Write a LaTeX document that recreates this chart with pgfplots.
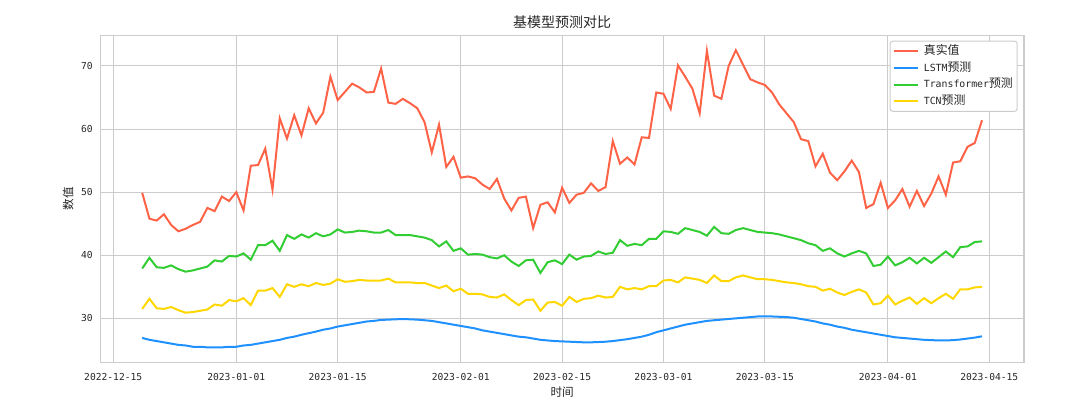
\documentclass[border=0pt]{standalone}
\usepackage{fontspec}
\setmainfont{DejaVu Sans Mono}[Scale=0.83]
\newfontfamily\cjk{Noto Sans CJK SC}
\usepackage{pgfplots}
\pgfplotsset{compat=1.18}
\usepackage{pgfplotstable}
\definecolor{cReal}{HTML}{FF6347}
\definecolor{cLSTM}{HTML}{1E90FF}
\definecolor{cTrans}{HTML}{32CD32}
\definecolor{cTCN}{HTML}{FFD700}
\definecolor{gridc}{HTML}{CCCCCC}
\definecolor{txt}{HTML}{262626}

\pgfplotstableread{
d real lstm trans tcn
-13 49.9 26.9 37.9 31.5
-12 45.8 26.6 39.6 33.1
-11 45.5 26.4 38.1 31.6
-10 46.5 26.2 38.0 31.5
-9 44.8 26.0 38.4 31.8
-8 43.8 25.8 37.8 31.3
-7 44.2 25.7 37.4 30.9
-6 44.8 25.5 37.6 31.0
-5 45.3 25.5 37.9 31.2
-4 47.5 25.4 38.2 31.4
-3 47.0 25.4 39.2 32.2
-2 49.3 25.4 39.0 32.0
-1 48.6 25.5 39.9 32.9
0 50.0 25.5 39.8 32.7
1 47.1 25.7 40.3 33.2
2 54.2 25.8 39.3 32.1
3 54.3 26.0 41.6 34.4
4 56.9 26.2 41.6 34.4
5 50.4 26.4 42.3 34.8
6 61.7 26.6 40.7 33.4
7 58.5 26.9 43.2 35.4
8 62.2 27.1 42.6 35.0
9 59.0 27.4 43.3 35.4
10 63.3 27.65 42.8 35.1
11 60.9 27.9 43.5 35.6
12 62.6 28.2 43.0 35.3
13 68.3 28.4 43.3 35.5
14 64.6 28.7 44.1 36.2
15 65.9 28.9 43.6 35.8
16 67.2 29.1 43.7 35.9
17 66.6 29.3 43.9 36.1
18 65.8 29.5 43.8 36.0
19 65.9 29.6 43.6 36.0
20 69.6 29.75 43.6 36.0
21 64.2 29.8 44.0 36.3
22 64.0 29.85 43.2 35.7
23 64.8 29.9 43.2 35.7
24 64.1 29.85 43.2 35.7
25 63.3 29.8 43.0 35.6
26 61.1 29.7 42.8 35.6
27 56.3 29.6 42.4 35.2
28 60.7 29.4 41.4 34.8
29 54.0 29.2 42.2 35.2
30 55.6 29.0 40.7 34.3
31 52.3 28.8 41.1 34.7
32 52.5 28.6 40.1 33.9
33 52.2 28.4 40.2 33.9
34 51.2 28.1 40.1 33.8
35 50.5 27.9 39.7 33.4
36 52.1 27.7 39.5 33.3
37 49.0 27.5 40.0 33.8
38 47.1 27.3 39.0 32.9
39 49.1 27.1 38.3 32.1
40 49.3 27.0 39.2 32.9
41 44.3 26.8 39.3 33.0
42 48.0 26.6 37.2 31.2
43 48.4 26.5 38.9 32.5
44 46.8 26.4 39.2 32.6
45 50.7 26.35 38.6 32.0
46 48.3 26.3 40.1 33.4
47 49.6 26.25 39.3 32.6
48 49.9 26.2 39.8 33.1
49 51.4 26.2 39.9 33.2
50 50.2 26.25 40.6 33.6
51 50.8 26.3 40.2 33.3
52 58.1 26.4 40.4 33.4
53 54.5 26.55 42.4 35.0
54 55.5 26.7 41.5 34.6
55 54.4 26.9 41.8 34.8
56 58.7 27.1 41.6 34.6
57 58.6 27.4 42.6 35.1
58 65.8 27.8 42.6 35.1
59 65.6 28.1 43.8 36.0
60 63.2 28.4 43.7 36.1
61 70.1 28.7 43.4 35.7
62 68.3 29.0 44.3 36.5
63 66.4 29.2 44.0 36.3
64 62.5 29.4 43.7 36.1
65 72.4 29.6 43.1 35.6
66 65.3 29.7 44.5 36.8
67 64.8 29.8 43.5 35.9
68 70.0 29.9 43.4 35.9
69 72.5 30.0 44.0 36.5
70 70.2 30.1 44.3 36.8
71 67.9 30.2 44.0 36.5
72 67.4 30.3 43.7 36.2
73 67.0 30.3 43.6 36.2
74 65.8 30.3 43.5 36.1
75 63.9 30.25 43.3 35.9
76 62.5 30.2 43.0 35.7
77 61.1 30.1 42.7 35.6
78 58.4 29.9 42.4 35.4
79 58.1 29.7 41.9 35.1
80 54.1 29.5 41.6 35.0
81 56.1 29.2 40.7 34.4
82 53.1 29.0 41.1 34.7
83 51.9 28.7 40.3 34.1
84 53.3 28.5 39.8 33.7
85 55.0 28.2 40.3 34.2
86 53.2 28.0 40.7 34.6
87 47.5 27.8 40.3 34.1
88 48.1 27.6 38.3 32.2
89 51.5 27.4 38.5 32.4
90 47.5 27.2 39.8 33.6
91 48.7 27.0 38.4 32.2
92 50.5 26.9 38.9 32.8
93 47.7 26.8 39.6 33.3
94 50.2 26.7 38.7 32.3
95 47.8 26.6 39.6 33.2
96 49.8 26.55 38.8 32.4
97 52.5 26.5 39.7 33.2
98 49.6 26.5 40.6 33.9
99 54.7 26.55 39.7 33.1
100 54.9 26.65 41.3 34.6
101 57.2 26.8 41.4 34.6
102 57.8 26.95 42.1 34.9
103 61.4 27.15 42.2 35.0
}\data

\begin{document}
\begin{tikzpicture}
\path[use as bounding box] (-75.15pt,-29.1pt) rectangle (734.85pt,271.7pt);
\begin{axis}[
  at={(0,0)}, anchor=south west,
  scale only axis, width=692.85pt, height=245.2pt,
  xmin=-18.8, xmax=108.8, ymin=23.04, ymax=74.86,
  xtick={-17,0,14,31,45,59,73,90,104},
  xticklabels={2022-12-15,2023-01-01,2023-01-15,2023-02-01,2023-02-15,2023-03-01,2023-03-15,2023-04-01,2023-04-15},
  ytick={30,40,50,60,70},
  yticklabels={30,40,50,60,70},
  grid=major,
  major grid style={gridc, line width=0.75pt},
  axis line style={gridc, line width=0.9pt},
  tick style={draw=none},
  every tick label/.append style={font=\fontsize{8.7}{10}\selectfont, text=txt},
  xticklabel style={anchor=center, yshift=-11.1pt},
  yticklabel style={anchor=east, xshift=-2.6pt},
  title={\cjk 基模型预测对比},
  title style={at={(axis description cs:0.5,1.0163)}, anchor=center, font=\fontsize{10.5}{12}\selectfont, text=txt},
  xlabel={\cjk 时间},
  xlabel style={at={(axis description cs:0.5,-0.0914)}, anchor=center, font=\fontsize{8.7}{10}\selectfont, text=txt},
  ylabel={\cjk 数值},
  ylabel style={at={(axis description cs:-0.0346,0.5)}, anchor=center, font=\fontsize{8.7}{10}\selectfont, text=txt},
  legend style={at={(1,1)}, anchor=north east, xshift=-4.7pt, yshift=-4pt,
    draw=gridc, line width=0.75pt, rounded corners=2pt, fill=white,
    font=\fontsize{8.9}{10}\selectfont, text=txt,
    inner xsep=1.8pt, inner ysep=1.5pt, row sep=0pt,
    nodes={inner sep=1.5pt, text height=7pt, text depth=2.4pt},
    cells={anchor=west}},
  legend image code/.code={\draw[#1, line width=1.5pt] (0pt,0pt) -- (18pt,0pt); \path (20.5pt,0pt);},
  clip=false,
]
\addplot[cReal, line width=1.5pt] table[x=d, y=real] {\data};
\addlegendentry{\cjk 真实值}
\addplot[cLSTM, line width=1.5pt] table[x=d, y=lstm] {\data};
\addlegendentry{LSTM{\cjk 预测}}
\addplot[cTrans, line width=1.5pt] table[x=d, y=trans] {\data};
\addlegendentry{Transformer{\cjk 预测}}
\addplot[cTCN, line width=1.5pt] table[x=d, y=tcn] {\data};
\addlegendentry{TCN{\cjk 预测}}
\end{axis}
\end{tikzpicture}
\end{document}
